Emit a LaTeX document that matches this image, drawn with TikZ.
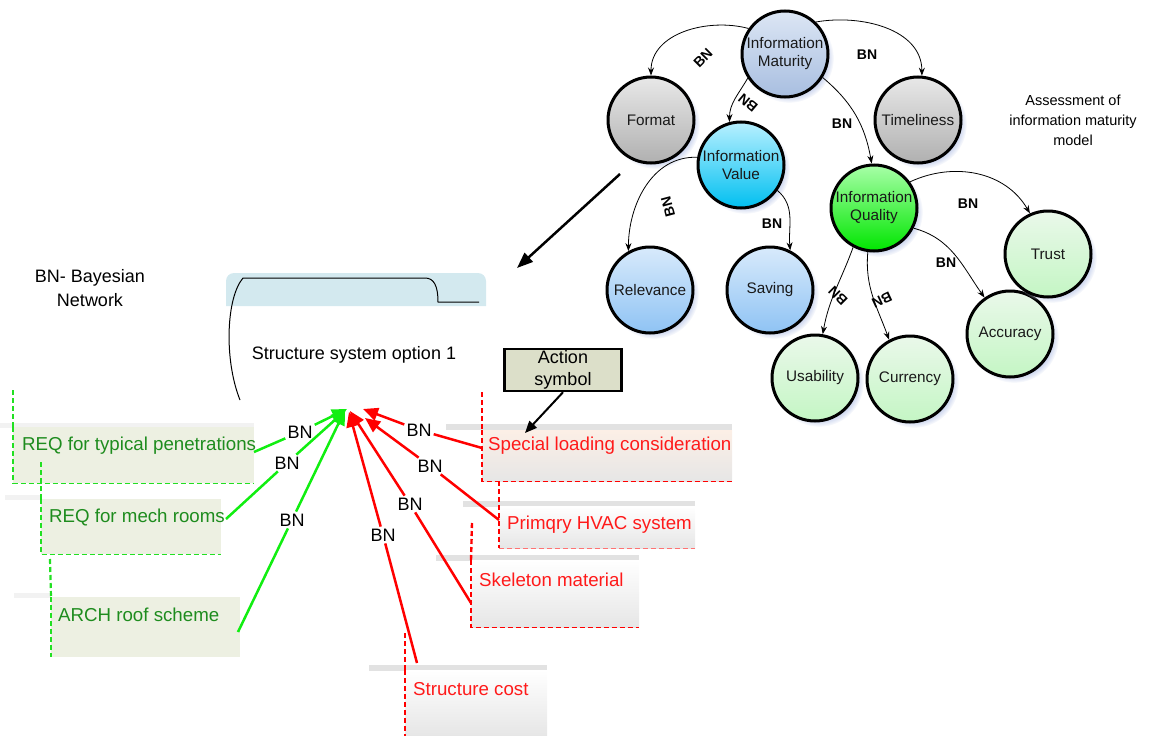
\documentclass[tikz,border=0pt]{standalone}
\usepackage{fontspec}
\setmainfont{Liberation Sans}
\usetikzlibrary{arrows.meta,shadows}
\definecolor{matA}{HTML}{DCE6F4}
\definecolor{matB}{HTML}{A8BEE0}
\definecolor{gryA}{HTML}{E8E8E8}
\definecolor{gryB}{HTML}{B0B0B0}
\definecolor{valA}{HTML}{B8F0FF}
\definecolor{valB}{HTML}{00BFF0}
\definecolor{relA}{HTML}{D8EAFB}
\definecolor{relB}{HTML}{8FC3F4}
\definecolor{quaA}{HTML}{A8FFA8}
\definecolor{quaB}{HTML}{00E600}
\definecolor{lgA}{HTML}{EAF8EA}
\definecolor{lgB}{HTML}{C4F6C4}
\definecolor{shd}{HTML}{CDD6EE}
\definecolor{tabblue}{HTML}{D3E9EF}
\definecolor{gfill}{HTML}{EDF0E2}
\definecolor{gline}{HTML}{22E022}
\definecolor{gtext}{HTML}{1E8C1E}
\definecolor{arrg}{HTML}{11EE11}
\definecolor{rtext}{HTML}{FF1A1A}
\definecolor{rline}{HTML}{FF0000}
\definecolor{barc}{HTML}{E2E2E2}
\definecolor{barlight}{HTML}{F2F2F2}
\definecolor{actfill}{HTML}{DCDFC9}
\definecolor{peach}{HTML}{FCEFE6}
\definecolor{boxgray}{HTML}{E6E6E6}
\tikzset{
  bub/.style={circle, draw=black, line width=3pt, minimum size=86pt, inner sep=0pt, align=center, text=black!90,
    font=\fontsize{15.3}{18}\selectfont,
    circular drop shadow={shadow xshift=4pt, shadow yshift=-4pt, shadow scale=1.04, fill=shd, opacity=1}},
  bnarr/.style={line width=0.8pt, -{Stealth[length=8pt,width=6pt]}},
  bnl/.style={font=\bfseries\fontsize{14}{16}\selectfont, inner sep=0.5pt},
  lbl/.style={font=\fontsize{18}{22}\selectfont, inner sep=2pt},
  btx/.style={font=\fontsize{18.7}{22}\selectfont, inner sep=2pt, anchor=west},
  garr/.style={draw=arrg, line width=2.5pt, -{Triangle[length=15pt,width=13pt]}},
  rarr/.style={draw=rline, line width=2.5pt, -{Triangle[length=15pt,width=13pt]}},
  gbox/.style={rectangle, fill=gfill, inner sep=0pt, anchor=north west},
  rbox/.style={rectangle, top color=white, bottom color=boxgray, inner sep=0pt, anchor=north west},
  gdash/.style={draw=gline, line width=1.2pt, dash pattern=on 5pt off 3pt},
  gdashT/.style={draw=gline, line width=2.2pt, dash pattern=on 5pt off 3pt},
  rdash/.style={draw=rline, line width=1.2pt, dash pattern=on 5pt off 3pt},
  rdashT/.style={draw=rline, line width=2.4pt, dash pattern=on 5pt off 3pt},
  gbar/.style={draw=barc, line width=6pt},
  fbar/.style={draw=barlight, line width=5pt},
}
\begin{document}
\begin{tikzpicture}[x=1pt,y=-1pt]
\useasboundingbox (0,0) rectangle (1152,736);

% ---------- information maturity model ----------
\node[bub, top color=matA, bottom color=matB] (mat) at (785,54) {Information\\Maturity};
\node[bub, top color=gryA, bottom color=gryB] (fmt) at (651,120) {Format};
\node[bub, top color=gryA, bottom color=gryB] (tim) at (918,120) {Timeliness};
\node[bub, top color=valA, bottom color=valB] (val) at (741,165) {Information\\Value};
\node[bub, top color=quaA, bottom color=quaB] (qua) at (874,208) {Information\\Quality};
\node[bub, top color=relA, bottom color=relB] (rel) at (650,290) {Relevance};
\node[bub, top color=relA, bottom color=relB] (sav) at (770,290) {Saving};
\node[bub, top color=lgA, bottom color=lgB] (usa) at (815,378) {Usability};
\node[bub, top color=lgA, bottom color=lgB] (cur) at (910,379) {Currency};
\node[bub, top color=lgA, bottom color=lgB] (acc) at (1010,334) {Accuracy};
\node[bub, top color=lgA, bottom color=lgB] (tru) at (1048,254) {Trust};

\draw[bnarr] (mat.145) to[out=165,in=90] (fmt.north);
\draw[bnarr] (mat.46) to[out=10,in=90] (tim.85);
\draw[bnarr] (mat.213) to[out=240,in=90] (val.105);
\draw[bnarr] (mat.-32) to[out=-40,in=100] (qua.93);
\draw[bnarr] (val.170) to[out=178,in=90] (rel.119);
\draw[bnarr] (val.-35) to[out=-40,in=95] (sav.63);
\draw[bnarr] (qua.36) to[out=25,in=120] (tru.114);
\draw[bnarr] (qua.-27) to[out=-15,in=125] (acc.125);
\draw[bnarr] (qua.242) to[out=250,in=80] (usa.80);
\draw[bnarr] (qua.262) to[out=265,in=110] (cur.118);

\node[bnl, rotate=45] (l1) at (703,58) {BN};
\node[bnl] (l2) at (867,55) {BN};
\node[bnl, rotate=140] (l3) at (748,103) {BN};
\node[bnl] (l4) at (842,124) {BN};
\node[bnl, rotate=105] (l5) at (668,207) {BN};
\node[bnl] (l6) at (772,224) {BN};
\node[bnl] (l7) at (968,204) {BN};
\node[bnl] (l8) at (946,263) {BN};
\node[bnl, rotate=135] (l9) at (838,296) {BN};
\node[bnl, rotate=-155] (l10) at (882,300) {BN};

\node[align=center, font=\fontsize{14.5}{20}\selectfont] (ass) at (1073,120) {Assessment of\\information maturity\\model};

% big arrow
\coordinate (ba1) at (620,174);
\coordinate (ba2) at (517,268);
\draw[line width=2.5pt, -{Triangle[length=16pt,width=12pt]}] (ba1) -- (ba2);

% ---------- structure system ----------
\fill[tabblue] (226,306) [rounded corners=8pt] -- (226,273) -- (486,273) [sharp corners] -- (486,306) -- cycle;
\draw[line width=1pt] (240,400) .. controls (224,360) and (226,298) .. (243,278) -- (425,278)
  .. controls (434,278) and (438,286) .. (438,302) -- (479,302);
\node[lbl] (sso) at (354,355) {Structure system option 1};
\node[lbl, align=center, font=\fontsize{18}{24}\selectfont] (bnb) at (90,288) {BN- Bayesian\\Network};

% green boxes
\draw[fbar] (0,425) -- (254,425);
\node[gbox, minimum width=241pt, minimum height=56pt] (gb1) at (13,427) {};
\draw[gdash] (gb1.north west) -- (gb1.south west) -- (gb1.south east);
\draw[gdashT] (13,390) -- (gb1.north west);
\node[btx, text=gtext] (gt1) at (20,446) {REQ for typical penetrations};

\draw[fbar] (5,497) -- (41,497);
\node[gbox, minimum width=180pt, minimum height=55pt] (gb2) at (41,499) {};
\draw[gdash] (gb2.north west) -- (gb2.south west) -- (gb2.south east);
\draw[gdashT] (41,462) -- (gb2.north west);
\node[btx, text=gtext] (gt2) at (47,517) {REQ for mech rooms};

\draw[fbar] (14,595) -- (51,595);
\node[gbox, minimum width=189pt, minimum height=60pt] (gb3) at (51,597) {};
\draw[gdash] (gb3.north west) -- (gb3.south west);
\draw[gdashT] (50,559) -- (gb3.north west);
\node[btx, text=gtext] (gt3) at (56,615) {ARCH roof scheme};

% red boxes
\draw[gbar] (446,427) -- (732,427);
\node[rbox, top color=peach, minimum width=250pt, minimum height=51pt] (rb1) at (482,430) {};
\draw[rdash] (rb1.north west) -- (rb1.south west) -- (rb1.south east);
\draw[rdashT] (482,392) -- (rb1.north west);
\node[btx, text=rtext] (rt1) at (486,446) {Special loading consideration};

\draw[gbar] (463,504) -- (695,504);
\node[rbox, minimum width=196pt, minimum height=42pt] (rb2) at (499,506) {};
\draw[rdash, draw=rline!55] (rb2.south west) -- (rb2.south east);
\draw[rdashT] (499,481) -- (rb2.south west);
\node[btx, text=rtext] (rt2) at (505,525) {Primqry HVAC system};

\draw[gbar] (436,558) -- (639,558);
\node[rbox, minimum width=168pt, minimum height=67pt] (rb3) at (471,560) {};
\draw[rdash] (rb3.north west) -- (rb3.south west) -- (rb3.south east);
\draw[rdashT] (472,523) -- (rb3.north west);
\node[btx, text=rtext] (rt3) at (477,580) {Skeleton material};

\draw[gbar] (369,668) -- (547,668);
\node[rbox, minimum width=142pt, minimum height=66pt] (rb4) at (405,670) {};
\draw[rdash] (rb4.north west) -- (rb4.south west);
\draw[rdashT] (405,633) -- (rb4.north west);
\node[btx, text=rtext] (rt4) at (411,689) {Structure cost};

% action symbol
\node[rectangle, draw=black, line width=2.5pt, fill=actfill, minimum width=117pt, minimum height=42pt,
  align=center, inner sep=1pt, font=\fontsize{18}{22}\selectfont] (act) at (563,370) {Action\\symbol};
\coordinate (actend) at (525,433);
\draw[line width=2pt, -{Triangle[length=12pt,width=10pt]}] (act.south) -- (actend);

% connectors to the hub
\coordinate (sg1) at (254,452);
\coordinate (sg2) at (226,519);
\coordinate (sg3) at (238,632);
\coordinate (hg1) at (347,409);
\coordinate (hg2) at (346,410);
\coordinate (hg3) at (345,410);
\node[lbl] (bg1) at (300,432) {BN};
\node[lbl] (bg2) at (287,463) {BN};
\node[lbl] (bg3) at (292,520) {BN};
\draw[garr] (sg1) -- (bg1) -- (hg1);
\draw[garr] (sg2) -- (bg2) -- (hg2);
\draw[garr] (sg3) -- (bg3) -- (hg3);

\coordinate (sr1) at (482,448);
\coordinate (sr2) at (499,520);
\coordinate (sr3) at (471,603);
\coordinate (sr4) at (417,663);
\coordinate (hr1) at (363,409);
\coordinate (hr2) at (365,418);
\coordinate (hr3) at (350,411);
\coordinate (hr4) at (349,412);
\node[lbl] (br1) at (419,430) {BN};
\node[lbl] (br2) at (430,466) {BN};
\node[lbl] (br3) at (410,504) {BN};
\node[lbl] (br4) at (383,535) {BN};
\draw[rarr] (sr1) -- (br1) -- (hr1);
\draw[rarr] (sr2) -- (br2) -- (hr2);
\draw[rarr] (sr3) -- (br3) -- (hr3);
\draw[rarr] (sr4) -- (br4) -- (hr4);
\end{tikzpicture}
\end{document}
